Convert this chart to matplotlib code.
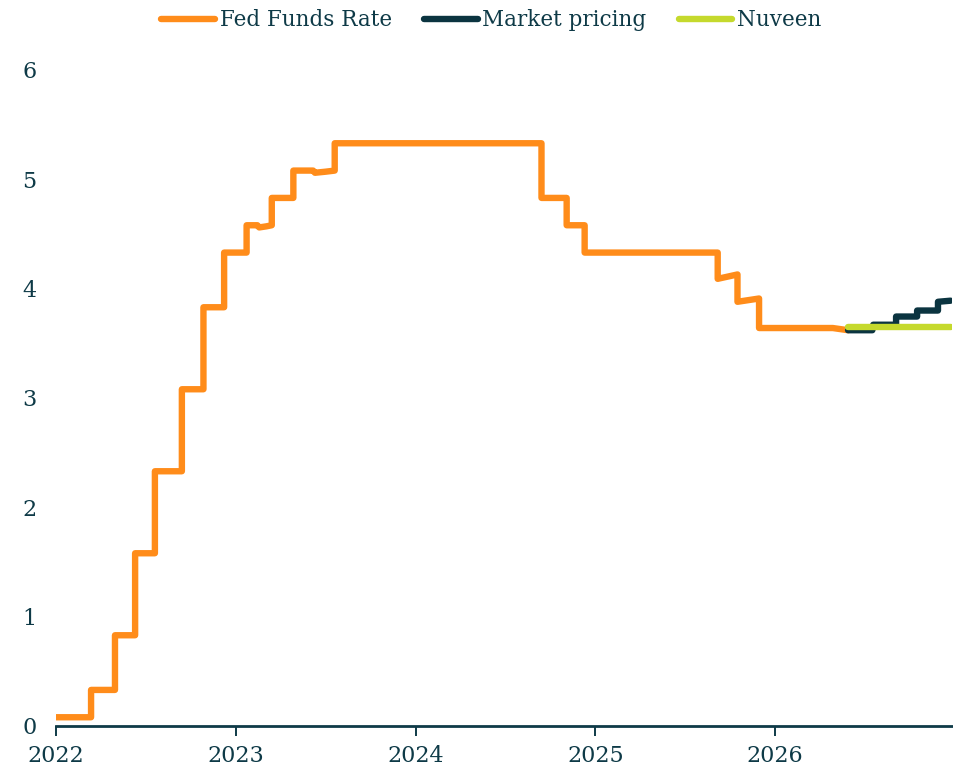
import matplotlib
matplotlib.use("Agg")
import matplotlib.pyplot as plt

# Fed Funds Rate (year fraction, percent) - vertices of the step path
fed_x = [2022.00, 2022.195, 2022.195, 2022.328, 2022.328, 2022.44, 2022.44, 2022.55, 2022.55,
         2022.70, 2022.70, 2022.82, 2022.82, 2022.935, 2022.935, 2023.06, 2023.06, 2023.12,
         2023.13, 2023.17, 2023.20, 2023.20, 2023.32, 2023.32, 2023.43, 2023.44, 2023.50,
         2023.55, 2023.55, 2024.70, 2024.70, 2024.84, 2024.84, 2024.94, 2024.94, 2025.68,
         2025.68, 2025.79, 2025.79, 2025.91, 2025.91, 2026.32, 2026.405]
fed_y = [0.08, 0.08, 0.33, 0.33, 0.83, 0.83, 1.58, 1.58, 2.33,
         2.33, 3.08, 3.08, 3.83, 3.83, 4.33, 4.33, 4.58, 4.58,
         4.56, 4.57, 4.58, 4.83, 4.83, 5.08, 5.08, 5.06, 5.07,
         5.08, 5.33, 5.33, 4.83, 4.83, 4.58, 4.58, 4.33, 4.33,
         4.09, 4.13, 3.88, 3.91, 3.64, 3.64, 3.62]

# Market pricing path
mkt_x = [2026.405, 2026.54, 2026.545, 2026.672, 2026.672, 2026.789, 2026.789, 2026.905, 2026.905, 2026.975]
mkt_y = [3.62, 3.62, 3.67, 3.67, 3.745, 3.745, 3.80, 3.80, 3.88, 3.89]

# Nuveen forecast
nuv_x = [2026.405, 2026.975]
nuv_y = [3.65, 3.65]

year_ticks = [2022, 2023, 2024, 2025, 2026]
y_ticks = [0, 1, 2, 3, 4, 5, 6]

ORANGE = "#ff8c1a"
DARK = "#0b3440"
LIME = "#c5d92d"
TEXT = "#0e3a47"

plt.rcParams['font.family'] = ['DejaVu Serif']

fig = plt.figure(figsize=(9.54, 7.68), dpi=100)
ax = fig.add_axes([56/954, 1-726/768, (952-56)/954, (726-70)/768])

lw = 4.6
ax.plot(fed_x, fed_y, color=ORANGE, lw=lw, solid_capstyle='round', solid_joinstyle='round',
        label="Fed Funds Rate", zorder=3)
ax.plot(mkt_x, mkt_y, color=DARK, lw=lw, solid_capstyle='round', solid_joinstyle='round',
        label="Market pricing", zorder=3)
ax.plot(nuv_x, nuv_y, color=LIME, lw=lw, solid_capstyle='round', solid_joinstyle='round',
        label="Nuveen", zorder=4)

ax.set_xlim(2022, 2026.983)
ax.set_ylim(0, 6)
ax.set_xticks(year_ticks)
ax.set_xticklabels([str(t) for t in year_ticks])
ax.set_yticks(y_ticks)

for s in ['top', 'right', 'left']:
    ax.spines[s].set_visible(False)
ax.spines['bottom'].set_color(TEXT)
ax.spines['bottom'].set_linewidth(2)
ax.spines['bottom'].set_zorder(2)

ax.tick_params(axis='x', colors=TEXT, length=7, width=1.4, labelsize=16, pad=6.5, labelcolor=TEXT)
ax.tick_params(axis='y', length=0, labelsize=16, pad=14, labelcolor=TEXT)

leg = fig.legend(loc='upper center', bbox_to_anchor=(0.515, 1.013), ncol=3, frameon=False,
                 fontsize=15.5, handlelength=2.5, handletextpad=0.2, columnspacing=1.5)
for t in leg.get_texts():
    t.set_color(TEXT)
for l in leg.get_lines():
    l.set_linewidth(4.6)
    l.set_solid_capstyle('round')

fig.savefig("out.png", dpi=100)
